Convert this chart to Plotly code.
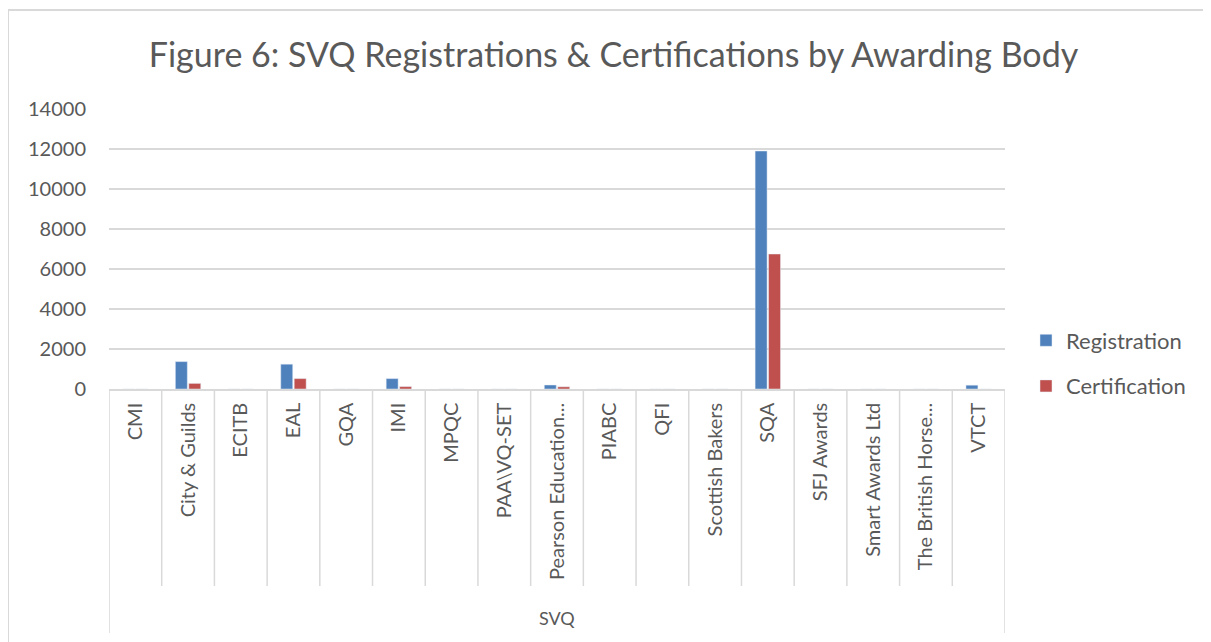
import plotly.graph_objects as go

categories = ["CMI", "City & Guilds", "ECITB", "EAL", "GQA", "IMI", "MPQC", "PAA\\VQ-SET",
              "Pearson Education...", "PIABC", "QFI", "Scottish Bakers", "SQA", "SFJ Awards",
              "Smart Awards Ltd", "The British Horse...", "VTCT"]
registration = [0, 1370, 0, 1240, 0, 520, 0, 0, 200, 0, 0, 0, 11900, 0, 0, 0, 190]
certification = [0, 280, 0, 520, 0, 120, 0, 0, 110, 0, 0, 0, 6750, 0, 0, 0, 0]
y_ticks = [0, 2000, 4000, 6000, 8000, 10000, 12000, 14000]
group_label = "SVQ"

FONT = "Lato"
GREY = "#595959"
LINE = "#d9d9d9"

fig = go.Figure()
fig.add_trace(go.Bar(x=categories, y=registration, name="Registration",
                     marker=dict(color="#4f81bd"), legendgroup="a"))
fig.add_trace(go.Bar(x=categories, y=certification, name="Certification",
                     marker=dict(color="#c0504d"), legendgroup="b"))

# page body offset of 8px in the browser
OFF = 8
W, H = 1211, 642
L, T = 109 - OFF, 109 - OFF
pw, ph = 896, 280
R = W - L - pw
B = H - T - ph

def px_x(x):
    return (x - OFF - L) / pw

def px_y(y):
    return (T + ph - (y - OFF)) / ph

shapes = []
n = len(categories)
for i in range(1, n):
    shapes.append(dict(type="line", xref="x", yref="paper", x0=i - 0.5, x1=i - 0.5,
                       y0=0, y1=px_y(586), line=dict(color=LINE, width=1.5)))
for xv in (-0.5, n - 0.5):
    shapes.append(dict(type="line", xref="x", yref="paper", x0=xv, x1=xv,
                       y0=0, y1=px_y(633), line=dict(color=LINE, width=1.5)))
# chart area border (cropped at right and bottom)
shapes.append(dict(type="line", xref="paper", yref="paper", x0=px_x(8), x1=px_x(1230),
                   y0=px_y(10), y1=px_y(10), line=dict(color=LINE, width=2)))
shapes.append(dict(type="line", xref="paper", yref="paper", x0=px_x(8), x1=px_x(8),
                   y0=px_y(10), y1=px_y(660), line=dict(color=LINE, width=2)))

fig.update_layout(
    width=W, height=H,
    margin=dict(l=L, r=R, t=T, b=B, autoexpand=False),
    paper_bgcolor="white", plot_bgcolor="white",
    font=dict(family=FONT, color=GREY),
    title=dict(text="Figure 6: SVQ Registrations & Certifications by Awarding Body",
               x=0.5, xanchor="center", y=1 - (55 - OFF) / H, yanchor="middle",
               font=dict(family=FONT, size=34, color=GREY)),
    barmode="group", bargap=0.49, bargroupgap=0.11,
    legend=dict(x=px_x(1026), xanchor="left", y=px_y(363.5), yanchor="middle",
                font=dict(family=FONT, size=22, color=GREY),
                tracegroupgap=14, bgcolor="rgba(0,0,0,0)"),
    shapes=shapes,
    annotations=[dict(text=group_label, xref="paper", yref="paper", x=0.5, y=px_y(618),
                      xanchor="center", yanchor="middle", showarrow=False,
                      font=dict(family=FONT, size=18, color=GREY))],
    xaxis=dict(type="category", range=[-0.5, n - 0.5], tickangle=-90,
               tickfont=dict(family=FONT, size=20, color=GREY),
               showline=True, linecolor=LINE, linewidth=1.5, showgrid=False,
               ticks="", ticklabelstandoff=4),
    yaxis=dict(range=[0, 14000], tickvals=y_ticks, ticktext=[str(v) for v in y_ticks],
               showgrid=True, gridcolor=LINE,
               gridwidth=1.5, zeroline=False, showline=False,
               tickfont=dict(family=FONT, size=20, color=GREY), ticklabelstandoff=22),
)

fig.write_html("out.html")
